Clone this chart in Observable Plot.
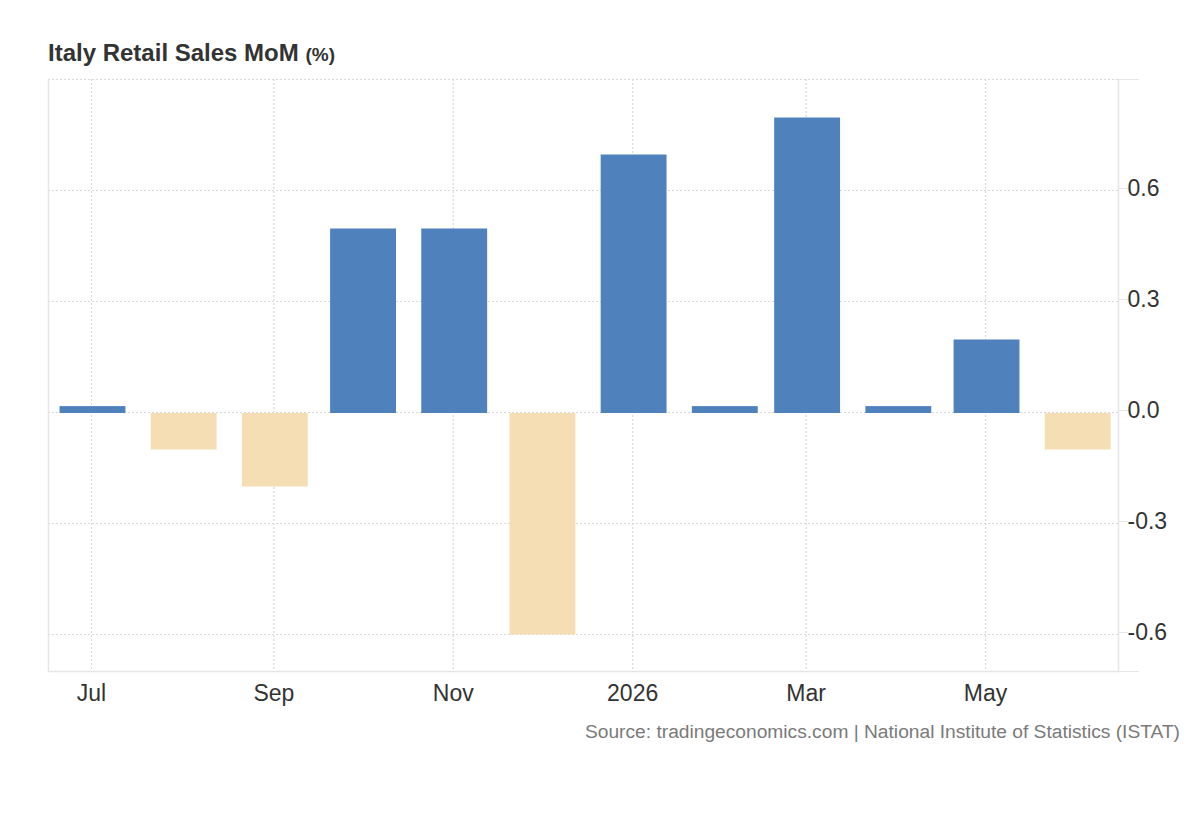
<!DOCTYPE html>
<html>
<head>
<meta charset="utf-8">
<script src="https://cdn.jsdelivr.net/npm/d3@7"></script>
<script src="https://cdn.jsdelivr.net/npm/@observablehq/plot@0.6"></script>
<style>
  html, body { margin: 0; padding: 0; background: #fff; }
  #chart svg { display: block; font-family: "Liberation Sans", Arial, sans-serif; }
</style>
</head>
<body>
<div id="chart"></div>
<script>
// ---- data ----
const months = ["2025-07-01","2025-08-01","2025-09-01","2025-10-01","2025-11-01","2025-12-01",
                "2026-01-01","2026-02-01","2026-03-01","2026-04-01","2026-05-01","2026-06-01"];
const values = [0.0, -0.1, -0.2, 0.5, 0.5, -0.6, 0.7, 0.0, 0.8, 0.0, 0.2, -0.1];
const xTickDates = ["2025-07-01","2025-09-01","2025-11-01","2026-01-01","2026-03-01","2026-05-01"];
const xTickLabels = ["Jul","Sep","Nov","2026","Mar","May"];
const yTicks = [-0.6, -0.3, 0.0, 0.3, 0.6];
const yGrid = [-0.6, -0.3, 0.0, 0.3, 0.6, 0.9];
const title = "Italy Retail Sales MoM";
const unit = "(%)";
const source = "Source: tradingeconomics.com | National Institute of Statistics (ISTAT)";

const DAY = 864e5;
const data = months.map((m, i) => ({date: new Date(m + "T00:00Z"), value: values[i]}));
const pos = data.filter(d => d.value >= 0);
const neg = data.filter(d => d.value < 0);
const tickDates = xTickDates.map(d => new Date(d + "T00:00Z"));
const labelOf = new Map(tickDates.map((d, i) => [+d, xTickLabels[i]]));

const BLUE = "#4f81bd", WHEAT = "#f5deb3", GRID = "#d9d9d9", LINE = "#e6e6e6", TEXT = "#333";
const barX1 = d => new Date(+d.date - 10.7 * DAY);
const barX2 = d => new Date(+d.date + 11.7 * DAY);

const chart = Plot.plot({
  width: 1200,
  height: 820,
  marginLeft: 48,
  marginRight: 82,
  marginTop: 79,
  marginBottom: 149,
  style: {fontFamily: "Liberation Sans, Arial, sans-serif", color: TEXT, background: "#fff"},
  x: {type: "utc", domain: [new Date("2025-06-16T09:00Z"), new Date("2026-06-15T05:00Z")]},
  y: {domain: [-0.7, 0.9]},
  marks: [
    Plot.gridY(yGrid, {stroke: GRID, strokeOpacity: 1, strokeDasharray: "2,2", strokeWidth: 1.2}),
    Plot.gridX(tickDates, {stroke: GRID, strokeOpacity: 1, strokeDasharray: "2,2", strokeWidth: 1.2}),
    Plot.frame({anchor: "left", stroke: LINE, strokeWidth: 1.5}),
    Plot.frame({anchor: "right", stroke: LINE, strokeWidth: 1.5}),
    Plot.frame({anchor: "bottom", stroke: LINE, strokeWidth: 1.5}),
    Plot.rectY(pos, {
      x1: barX1, x2: barX2, y1: 0,
      y2: d => d.value === 0 ? 0.02 : d.value,
      fill: BLUE, insetTop: 1.5, insetBottom: -1
    }),
    Plot.rectY(neg, {
      x1: barX1, x2: barX2, y1: 0, y2: "value",
      fill: WHEAT, insetTop: 1, insetBottom: -0.5
    }),
    Plot.axisY(yTicks, {
      anchor: "right", tickSize: 9, tickPadding: 0, stroke: LINE, strokeOpacity: 1,
      fontSize: 23, fill: TEXT, tickFormat: d => d.toFixed(1), dy: -2, label: null
    }),
    Plot.axisY([0.9, -0.7], {
      anchor: "right", tickSize: 20, stroke: LINE, strokeOpacity: 1, tickFormat: () => "", label: null
    }),
    Plot.axisX(tickDates, {
      anchor: "bottom", tickSize: 0, tickPadding: 13, fontSize: 23, fill: TEXT,
      tickFormat: d => labelOf.get(+d), label: null
    })
  ]
});

const svg = d3.select(chart);
const t = svg.append("text")
  .attr("x", 48).attr("y", 60.5)
  .attr("text-anchor", "start")
  .attr("fill", TEXT)
  .attr("font-family", "Liberation Sans, Arial, sans-serif")
  .attr("font-weight", "bold");
t.append("tspan").attr("font-size", 24).text(title + " ");
t.append("tspan").attr("font-size", 19).text(unit);

svg.append("text")
  .attr("x", 1180).attr("y", 738)
  .attr("text-anchor", "end")
  .attr("fill", "#7a7a7a")
  .attr("font-size", 19.2)
  .attr("font-family", "Liberation Sans, Arial, sans-serif")
  .text(source);

document.getElementById("chart").append(chart);
</script>
</body>
</html>
